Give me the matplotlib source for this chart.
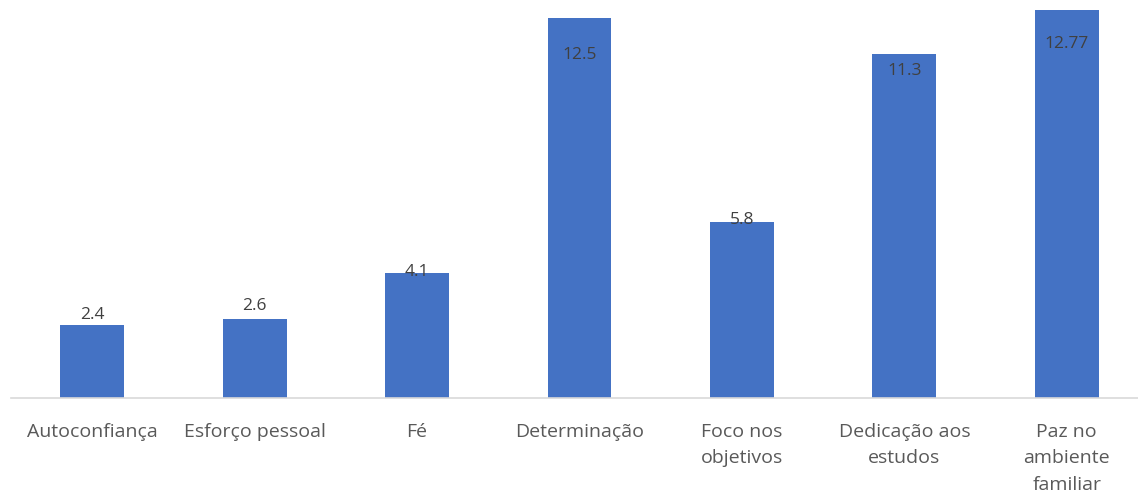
import matplotlib.pyplot as plt

categorias = ['Autoconfiança', 'Esforço pessoal', 'Fé', 'Determinação',
              'Foco nos\nobjetivos', 'Dedicação aos\nestudos', 'Paz no\nambiente\nfamiliar']
valores = [2.4, 2.6, 4.1, 12.5, 5.8, 11.3, 12.77]
rotulos = ['2.4', '2.6', '4.1', '12.5', '5.8', '11.3', '12.77']

# deslocamento vertical de cada rotulo em relacao ao topo da barra (pontos)
desloc = [7, 9, 1, -27, 1, -12, -25]

plt.rcParams['font.family'] = ['Open Sans', 'DejaVu Sans']

fig = plt.figure(figsize=(11.38, 4.96), dpi=100)
ax = fig.add_axes([11 / 1138, 98 / 496, 1137 / 1138, 398 / 496])

x = range(len(valores))
ax.bar(x, valores, width=0.394, color='#4472C4', zorder=2)

for i, v in enumerate(valores):
    ax.annotate(rotulos[i], (i, v), xytext=(0, desloc[i]), textcoords='offset points',
                ha='center', va='center', fontsize=12.5, color='#404040')

ax.set_xlim(-0.5, len(valores) - 0.5)
ax.set_ylim(0, 13.09)
ax.set_xticks(list(x))
ax.set_xticklabels(categorias, fontsize=14, color='#595959', linespacing=1.6, va='top')
ax.tick_params(axis='x', length=0, pad=18)
ax.set_yticks([])
for s in ['top', 'right', 'left']:
    ax.spines[s].set_visible(False)
ax.spines['bottom'].set_color('#D9D9D9')
ax.spines['bottom'].set_linewidth(1.2)

fig.savefig('out.png', dpi=100)
